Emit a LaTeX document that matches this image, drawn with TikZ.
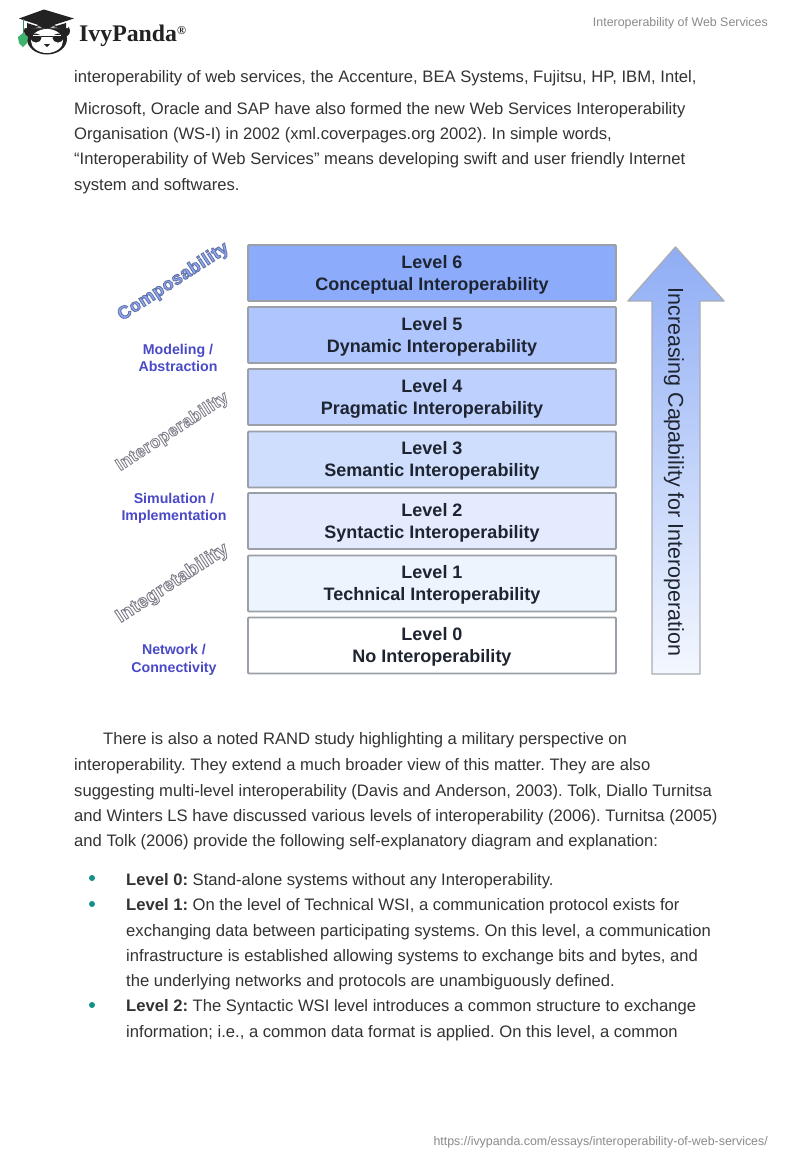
\documentclass[tikz,border=0pt]{standalone}
\usepackage{fontspec}
\setmainfont{Liberation Sans}
\newfontfamily\logofont{Liberation Serif}
\newfontface\wartfont{Liberation Sans Bold}[FakeBold=5,LetterSpace=2]
\usetikzlibrary{shadings}
\definecolor{bodytext}{HTML}{333333}
\definecolor{headgray}{HTML}{8A8A8A}
\definecolor{boxedge}{HTML}{9A9FA8}
\definecolor{levtext}{HTML}{1E2430}
\definecolor{sidetext}{HTML}{4A4AC8}
\definecolor{teal}{HTML}{12908A}
\definecolor{lsix}{HTML}{8CACFB}
\definecolor{lfive}{HTML}{AEC5FD}
\definecolor{lfour}{HTML}{BDD0FE}
\definecolor{lthree}{HTML}{D0DEFE}
\definecolor{ltwo}{HTML}{E4EBFE}
\definecolor{lone}{HTML}{EEF4FE}
\definecolor{arrowtop}{HTML}{8FADF5}
\definecolor{leaf}{HTML}{3DB46D}
\definecolor{ink}{HTML}{222222}
\newcommand{\outlined}[3]{\textcolor{#1}{\special{pdf:code #2 RG}#3}}
\newcommand{\levtxt}[2]{\raisebox{-6pt}[20pt][20pt]{\begin{tabular}{@{}c@{}}#1\\#2\end{tabular}}}
\tikzset{
  x=1pt,y=-1pt,
  lev/.style={draw=boxedge,line width=1.8pt,rounded corners=1pt,minimum width=368pt,minimum height=56pt,inner sep=0pt,
    text=levtext,font=\fontsize{18}{22}\selectfont\bfseries},
  line/.style={anchor=base west,inner sep=0pt,text=bodytext,font=\fontsize{16.62}{20}\selectfont\frenchspacing},
  bul/.style={circle,fill=teal,minimum size=6pt,inner sep=0pt},
  side/.style={align=center,inner sep=0pt,text=sidetext,font=\fontsize{14.2}{17.5}\selectfont\bfseries},
  wart/.style={inner sep=0pt,rotate=33},
  small/.style={anchor=base east,inner sep=0pt,text=headgray,font=\fontsize{12.4}{15}\selectfont},
}
\begin{document}
\begin{tikzpicture}
\useasboundingbox (0,0) rectangle (800,1160);
\fill[white] (0,0) rectangle (800,1160);
% logo
\fill[ink] (30,31) circle (6) (64,31) circle (6);
\fill[ink] (47,39) circle [x radius=20,y radius=15.5];
\fill[white] (47,41) circle [x radius=16,y radius=12];
\fill[ink] (36,38) circle [x radius=5.5,y radius=4.5] (58,38) circle [x radius=5.5,y radius=4.5];
\draw[white,line width=.6pt] (33,35) -- (61,35);
\draw[ink,line width=1pt] (41,36.5) -- (53,36.5);
\fill[ink] (44,44) -- (50,44) -- (47,47) -- cycle;
\fill[white] (25,21) -- (46,29) -- (68,21) -- (68,28) -- (25,28) -- cycle;
\fill[ink] (27,23) -- (46,29) -- (66,23) -- (66,30) .. controls (55,26) and (38,26) .. (27,30) -- cycle;
\fill[ink] (44,9.5) -- (74,18.5) -- (46,27.5) -- (19,18.5) -- cycle;
\draw[leaf!80!black,line width=.8pt] (23,19) -- (23,35);
\fill[leaf] (23,33) -- (28,37) -- (27,43) -- (23,47) -- (19,43) -- (18,37) -- cycle;
\node[anchor=base west,inner sep=0pt,text=ink,font=\logofont\fontsize{23.8}{26}\selectfont\bfseries] (logo) at (79,41) {IvyPanda\raisebox{7pt}{\fontsize{12}{12}\selectfont ®}};
% header/footer
\node[small] (head) at (768,26) {Interoperability of Web Services};
\node[small] (foot) at (768,1145) {https://ivypanda.com/essays/interoperability-of-web-services/};
% top paragraph
\node[line] (t1) at (74,82) {interoperability of web services, the Accenture, BEA Systems, Fujitsu, HP, IBM, Intel,};
\node[line] (t2) at (74,114) {Microsoft, Oracle and SAP have also formed the new Web Services Interoperability};
\node[line] (t3) at (74,139) {Organisation (WS-I) in 2002 (xml.coverpages.org 2002). In simple words,};
\node[line] (t4) at (74,164) {“Interoperability of Web Services” means developing swift and user friendly Internet};
\node[line] (t5) at (74,190) {system and softwares.};
% level boxes
\node[lev,fill=lsix] (l6) at (432,273) {\levtxt{Level 6}{Conceptual Interoperability}};
\node[lev,fill=lfive] (l5) at (432,335) {\levtxt{Level 5}{Dynamic Interoperability}};
\node[lev,fill=lfour] (l4) at (432,397) {\levtxt{Level 4}{Pragmatic Interoperability}};
\node[lev,fill=lthree] (l3) at (432,459.5) {\levtxt{Level 3}{Semantic Interoperability}};
\node[lev,fill=ltwo] (l2) at (432,521) {\levtxt{Level 2}{Syntactic Interoperability}};
\node[lev,fill=lone] (l1) at (432,583.5) {\levtxt{Level 1}{Technical Interoperability}};
\node[lev,fill=white] (l0) at (432,645.5) {\levtxt{Level 0}{No Interoperability}};
% arrow
\draw[draw=boxedge!85,line width=1.4pt,line join=round,top color=arrowtop,bottom color=lone!70!white]
  (675.5,247) -- (724,301) -- (700,301) -- (700,674) -- (652,674) -- (652,301) -- (628,301) -- cycle;
\node[rotate=-90,inner sep=0pt,text=levtext,font=\fontsize{21.5}{24}\selectfont] (arrowlabel) at (674,472) {Increasing Capability for Interoperation};
% side labels
\node[wart,font=\fontsize{18}{22}\selectfont] (w1) at (173.5,282) {\wartfont\outlined{lsix}{0.40 0.45 0.65}{Composability}};
\node[wart,font=\fontsize{17.3}{22}\selectfont] (w2) at (172.5,432) {\wartfont\outlined{white}{0.5 0.5 0.55}{Interoperability}};
\node[wart,font=\fontsize{19}{22}\selectfont] (w3) at (172.5,583.5) {\wartfont\outlined{white}{0.5 0.5 0.55}{Integretability}};
\node[side] (s1) at (178,358) {Modeling /\\Abstraction};
\node[side] (s2) at (174,508.5) {Simulation /\\Implementation};
\node[side] (s3) at (174,660) {Network /\\Connectivity};
% lower paragraph
\node[line] (b1) at (103,744) {There is also a noted RAND study highlighting a military perspective on};
\node[line] (b2) at (74,770) {interoperability. They extend a much broader view of this matter. They are also};
\node[line] (b3) at (74,796) {suggesting multi-level interoperability (Davis and Anderson, 2003). Tolk, Diallo Turnitsa};
\node[line] (b4) at (74,821) {and Winters LS have discussed various levels of interoperability (2006). Turnitsa (2005)};
\node[line] (b5) at (74,846) {and Tolk (2006) provide the following self-explanatory diagram and explanation:};
% bullets
\node[bul] (d0) at (92,878) {};
\node[line] (c1) at (126,885) {\textbf{Level 0:} Stand-alone systems without any Interoperability.};
\node[bul] (d1) at (92,904) {};
\node[line] (c2) at (126,910) {\textbf{Level 1:} On the level of Technical WSI, a communication protocol exists for};
\node[line] (c3) at (126,936) {exchanging data between participating systems. On this level, a communication};
\node[line] (c4) at (126,961) {infrastructure is established allowing systems to exchange bits and bytes, and};
\node[line] (c5) at (126,986) {the underlying networks and protocols are unambiguously defined.};
\node[bul] (d2) at (92,1005) {};
\node[line] (c6) at (126,1011) {\textbf{Level 2:} The Syntactic WSI level introduces a common structure to exchange};
\node[line] (c7) at (126,1037) {information; i.e., a common data format is applied. On this level, a common};
\end{tikzpicture}
\end{document}
